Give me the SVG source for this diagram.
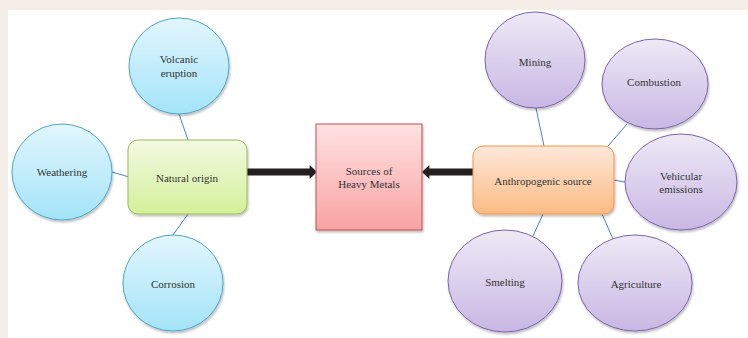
<svg xmlns="http://www.w3.org/2000/svg" width="748" height="338" viewBox="0 0 748 338">
<defs>
<linearGradient id="gBlue" x1="0" y1="0" x2="0" y2="1"><stop offset="0" stop-color="#e2f6fd"/><stop offset="1" stop-color="#a3e4f8"/></linearGradient>
<linearGradient id="gPurple" x1="0" y1="0" x2="0" y2="1"><stop offset="0" stop-color="#eee9f6"/><stop offset="1" stop-color="#c8b7e3"/></linearGradient>
<linearGradient id="gGreen" x1="0" y1="0" x2="0" y2="1"><stop offset="0" stop-color="#f2f9e2"/><stop offset="1" stop-color="#d4f09a"/></linearGradient>
<linearGradient id="gPink" x1="0" y1="0" x2="0" y2="1"><stop offset="0" stop-color="#ffe2e2"/><stop offset="1" stop-color="#f8a2a2"/></linearGradient>
<linearGradient id="gOrange" x1="0" y1="0" x2="0" y2="1"><stop offset="0" stop-color="#fde8da"/><stop offset="1" stop-color="#fbbb84"/></linearGradient>
<filter id="sh" x="-10%" y="-10%" width="125%" height="125%"><feDropShadow dx="1" dy="2" stdDeviation="1.2" flood-color="#000" flood-opacity="0.25"/></filter>
<marker id="ah" markerWidth="1.1" markerHeight="2" refX="0.05" refY="1" orient="auto" markerUnits="strokeWidth" overflow="visible"><path d="M0,0 L1.05,1 L0,2 Z" fill="#231f20"/></marker>
</defs>
<style>
text{font-family:"Liberation Serif","Times New Roman",serif;font-size:11px;fill:#333;text-anchor:middle}
.blue{fill:url(#gBlue);stroke:#4ea5c6;stroke-width:1;filter:url(#sh)}
.purple{fill:url(#gPurple);stroke:#7c62ab;stroke-width:1;filter:url(#sh)}
.link{stroke:#4f81bd;stroke-width:1;fill:none}
.arrow{stroke:#231f20;stroke-width:7;fill:none}
</style>
<rect x="0" y="0" width="748" height="338" fill="#f5eee8"/>
<rect x="8" y="10" width="740" height="328" fill="#ffffff"/>
<g id="connectors">
<line class="link" x1="179" y1="114" x2="188" y2="140"/>
<line class="link" x1="112" y1="172" x2="129" y2="177"/>
<line class="link" x1="188" y1="214" x2="173" y2="235"/>
<line class="link" x1="536" y1="108" x2="544" y2="146"/>
<line class="link" x1="627" y1="124" x2="608" y2="146"/>
<line class="link" x1="614" y1="180" x2="625" y2="182"/>
<line class="link" x1="602" y1="214" x2="613" y2="239"/>
<line class="link" x1="543" y1="214" x2="533" y2="236"/>
<line class="arrow" x1="247" y1="172" x2="310" y2="172" marker-end="url(#ah)"/>
<line class="arrow" x1="474" y1="172" x2="429" y2="172" marker-end="url(#ah)"/>
</g>
<g id="volcanic"><ellipse class="blue" cx="179" cy="66" rx="50" ry="48"/><text x="179" y="63">Volcanic</text><text x="179" y="77">eruption</text></g>
<g id="weathering"><ellipse class="blue" cx="62" cy="172" rx="50" ry="48"/><text x="62" y="176">Weathering</text></g>
<g id="corrosion"><ellipse class="blue" cx="173" cy="283" rx="50" ry="48"/><text x="173" y="288">Corrosion</text></g>
<g id="natural"><rect x="128" y="140" width="119" height="74" rx="10" fill="url(#gGreen)" stroke="#9bbb59" filter="url(#sh)"/><text x="187" y="182">Natural origin</text></g>
<g id="sources"><rect x="316" y="124" width="106" height="106" fill="url(#gPink)" stroke="#c0504d" filter="url(#sh)"/><text x="369" y="175">Sources of</text><text x="369" y="188">Heavy Metals</text></g>
<g id="anthropogenic"><rect x="473" y="146" width="141" height="68" rx="10" fill="url(#gOrange)" stroke="#f79646" filter="url(#sh)"/><text x="543" y="185">Anthropogenic source</text></g>
<g id="mining"><ellipse class="purple" cx="535" cy="60" rx="50" ry="48"/><text x="535" y="66">Mining</text></g>
<g id="combustion"><ellipse class="purple" cx="655" cy="84" rx="53" ry="45"/><text x="654" y="86">Combustion</text></g>
<g id="vehicular"><ellipse class="purple" cx="681" cy="182" rx="56" ry="48"/><text x="681" y="180">Vehicular</text><text x="681" y="193">emissions</text></g>
<g id="smelting"><ellipse class="purple" cx="505" cy="281" rx="57" ry="51"/><text x="505" y="286">Smelting</text></g>
<g id="agriculture"><ellipse class="purple" cx="635" cy="283" rx="57" ry="48"/><text x="636" y="288">Agriculture</text></g>
</svg>
